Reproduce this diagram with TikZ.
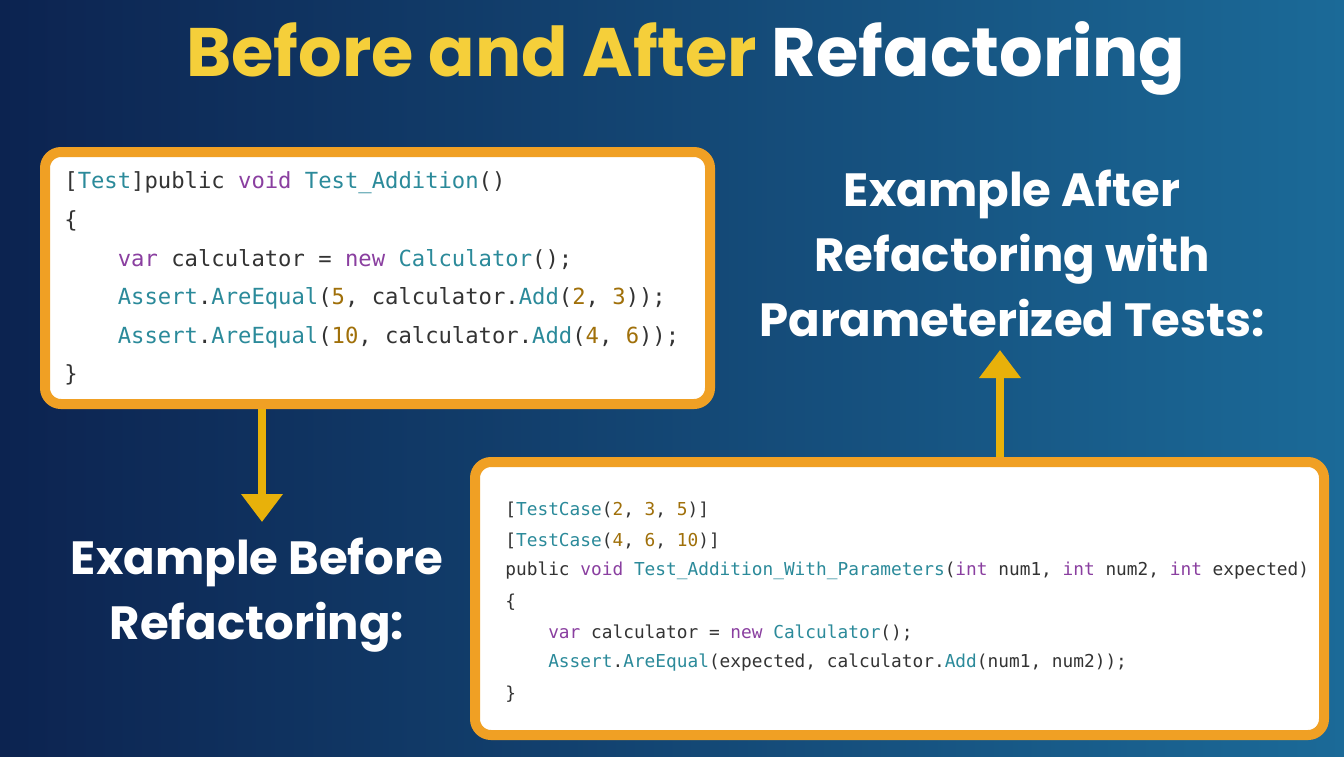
\documentclass[tikz,border=0pt]{standalone}
\usepackage{fontspec}
\setmainfont{Poppins}
\setmonofont{DejaVu Sans Mono}
\usetikzlibrary{arrows.meta}
\definecolor{bgA}{HTML}{0C2350}
\definecolor{bgB}{HTML}{1B6A98}
\definecolor{orng}{HTML}{F0A024}
\definecolor{yel}{HTML}{F5CF3A}
\definecolor{arr}{HTML}{E8B10A}
\definecolor{kwc}{HTML}{8A3FA0}
\definecolor{tyc}{HTML}{2B8A9A}
\definecolor{nmc}{HTML}{A0700A}
\definecolor{txc}{HTML}{333333}
\newcommand\kw[1]{\textcolor{kwc}{#1}}
\newcommand\ty[1]{\textcolor{tyc}{#1}}
\newcommand\nm[1]{\textcolor{nmc}{#1}}
\tikzset{
 codebox/.style={draw=orng,line width=5pt,fill=white,rounded corners=8pt},
 codeA/.style={anchor=west,inner sep=0,font=\ttfamily\fontsize{11.1}{13}\selectfont,text=txc},
 codeB/.style={anchor=west,inner sep=0,font=\ttfamily\fontsize{8.9}{11}\selectfont,text=txc},
 head/.style={font=\bfseries\fontsize{23.3}{32.5}\selectfont,text=white,align=center},
 arrw/.style={draw=arr,line width=4pt,-{Triangle[length=14pt,width=20pt]}}
}
\begin{document}
\begin{tikzpicture}[x=0.5pt,y=-0.5pt]
\shade[left color=bgA,right color=bgB] (0,0) rectangle (1344,756);
\useasboundingbox (0,0) rectangle (1344,756);
\node[font=\bfseries\fontsize{34.3}{40}\selectfont] (title) at (686,58) {\textcolor{yel}{Before and After} \textcolor{white}{Refactoring}};
\node[codebox,minimum width=665pt*0.5,minimum height=252pt*0.5,anchor=north west] (boxA) at (40,147) {};
\node[codebox,minimum width=849pt*0.5,minimum height=273pt*0.5,anchor=north west] (boxB) at (470,457) {};
\node[codeA] (a1) at (64,183) {[\ty{Test}]public \kw{void} \ty{Test\_Addition}()};
\node[codeA] (a2) at (64,221) {\{};
\node[codeA] (a3) at (64,260) {\phantom{xxxx}\kw{var} calculator = \kw{new} \ty{Calculator}();};
\node[codeA] (a4) at (64,298) {\phantom{xxxx}\ty{Assert}.\ty{AreEqual}(\nm{5}, calculator.\ty{Add}(\nm{2}, \nm{3}));};
\node[codeA] (a5) at (64,337) {\phantom{xxxx}\ty{Assert}.\ty{AreEqual}(\nm{10}, calculator.\ty{Add}(\nm{4}, \nm{6}));};
\node[codeA] (a6) at (64,375) {\}};
\node[codeB] (b1) at (505,510) {[\ty{TestCase}(\nm{2}, \nm{3}, \nm{5})]};
\node[codeB] (b2) at (505,541) {[\ty{TestCase}(\nm{4}, \nm{6}, \nm{10})]};
\node[codeB] (b3) at (505,571) {public \kw{void} \ty{Test\_Addition\_With\_Parameters}(\kw{int} num1, \kw{int} num2, \kw{int} expected)};
\node[codeB] (b4) at (505,602) {\{};
\node[codeB] (b5) at (505,633) {\phantom{xxxx}\kw{var} calculator = \kw{new} \ty{Calculator}();};
\node[codeB] (b6) at (505,663) {\phantom{xxxx}\ty{Assert}.\ty{AreEqual}(expected, calculator.\ty{Add}(num1, num2));};
\node[codeB] (b7) at (505,694) {\}};
\node[head] (before) at (257,595) {Example Before\\Refactoring:};
\node[head] (after) at (1012,253) {Example After\\Refactoring with\\Parameterized Tests:};
\coordinate (tipA) at (262,522);
\coordinate (tipB) at (1000,350);
\draw[arrw] (boxA.south -| tipA) -- (tipA);
\draw[arrw] (boxB.north -| tipB) -- (tipB);
\end{tikzpicture}
\end{document}
